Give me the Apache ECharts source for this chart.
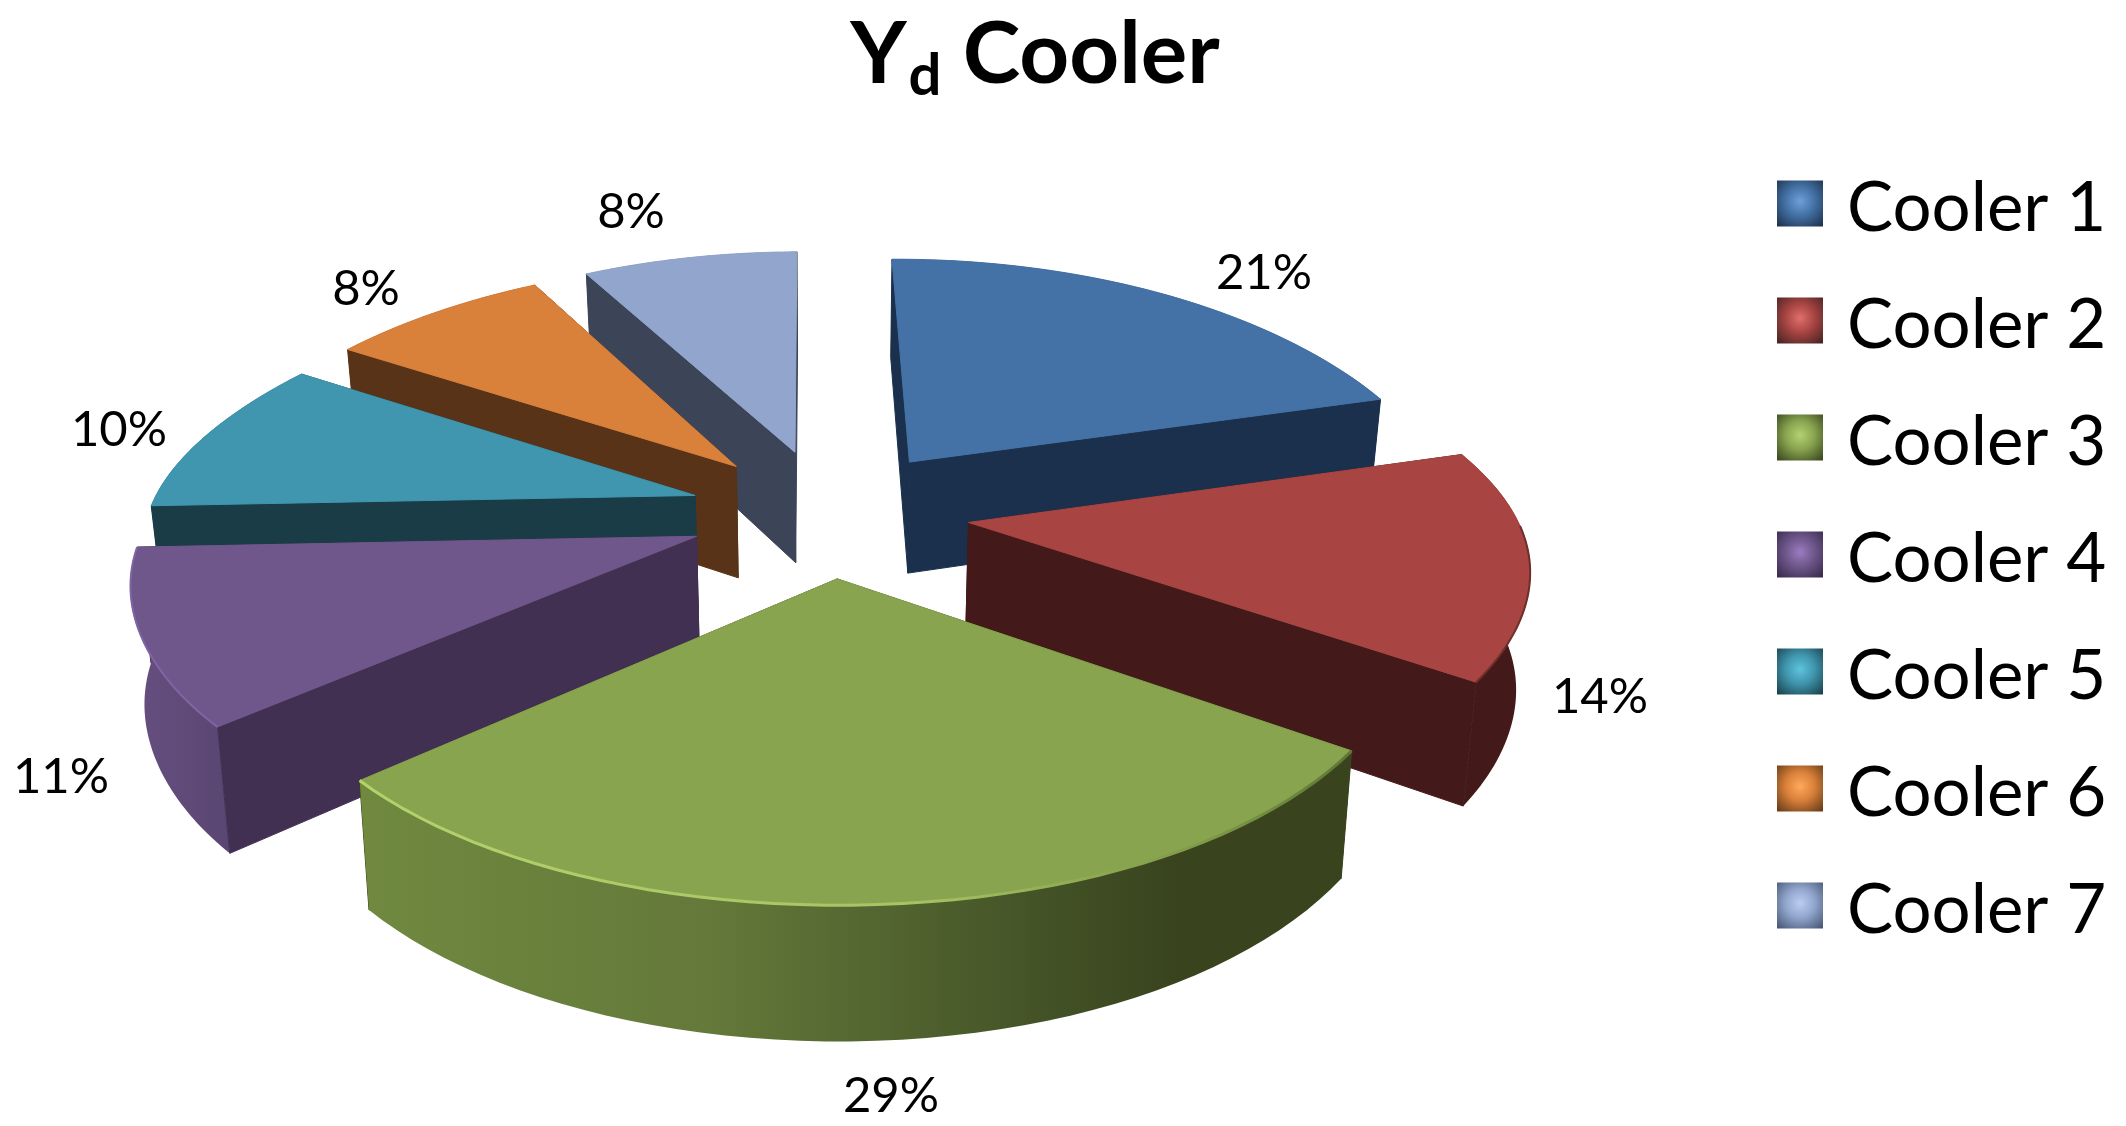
<!DOCTYPE html>
<html><head><meta charset="utf-8">
<style>html,body{margin:0;padding:0;background:#fff}#c{width:2126px;height:1126px}</style>
<script src="https://cdn.jsdelivr.net/npm/echarts@6/dist/echarts.min.js"></script>
</head><body><div id="c"></div>
<script>
const categories = ['Cooler 1','Cooler 2','Cooler 3','Cooler 4','Cooler 5','Cooler 6','Cooler 7'];
const values = [20.6, 14.2, 28.8, 10.8, 9.7, 7.9, 7.9];

const topColors  = ['#4472a6','#a84543','#88a44f','#6f578c','#3f96ae','#d9803a','#92a6cd'];
const wallColors = ['#1b304c','#431a19','#39441e','#413052','#1a3c47','#583317','#3b4557'];
const rimStops   = [
  [[0,'#1b304c'],[1,'#1b304c']],
  [[0,'#431a19'],[1,'#431a19']],
  [[0,'#70893f'],[.35,'#64793a'],[.65,'#475729'],[.82,'#39441e'],[1,'#39441e']],
  [[0,'#664f80'],[1,'#5a4672']],
  [[0,'#1a3c47'],[1,'#1a3c47']],
  [[0,'#583317'],[1,'#583317']],
  [[0,'#3b4557'],[1,'#3b4557']]];
const bevelColors = [null,'#6e2e2c',null,'#7f65a3',null,null,null];
const legendDark = ['#1f3450','#4a2523','#3c4a20','#3a2c4c','#1c4450','#6a3e18','#4a5a78'];
const legendLight= ['#6f9fda','#e06f6c','#b4d273','#9a7cc0','#5fc3dc','#ffa95a','#bccdf0'];

// stacking order of the exploded slices: back to front
const drawOrder = [6,0,5,4,1,3,2];
// percentage label anchors on the canvas
const labelAt = [[1264,273],[1600,697],[891,1096],[61,777],[119,430],[366,289],[631,212]];

// view of the tilted pie plane
const CX=829, CY=512, RX=530, RY=250, PX=0.18, PY=0.16, BULGE=0.03, BULGEW=0.4, EXPLODE=0.257, HEIGHT=114, HPERSP=0.13, CONV=0.02, A0=-0.5;

const total = values.reduce((a,b)=>a+b,0);
const cum=[]; values.reduce((a,v,i)=>(cum[i]=a,a+v),0);
function proj(u,v){return [CX+RX*(1+BULGE*Math.exp(-v*v/BULGEW))*u/(1-PX*v), CY+RY*v/(1-PY*v)];}
function drop(p,u,v){return [CX+(p[0]-CX)*(1-CONV), p[1]+HEIGHT/(1-HPERSP*v)];}

function slice(i){
  const a0=(A0+cum[i]/total*360)*Math.PI/180, a1=(A0+(cum[i]+values[i])/total*360)*Math.PI/180, m=(a0+a1)/2;
  const ex=EXPLODE*Math.sin(m), ey=-EXPLODE*Math.cos(m);
  const pt=(r,a)=>{const u=ex+r*Math.sin(a),v=ey-r*Math.cos(a);return {t:proj(u,v),b:drop(proj(u,v),u,v)};};
  const apex=pt(0,0), arc=[]; const N=48;
  for(let k=0;k<=N;k++)arc.push(pt(1,a0+(a1-a0)*k/N));
  return {apex,arc};
}
function wall(apex,e){return [apex.t,e.t,e.b,apex.b];}
function render(params,api){
  const i=params.seriesIndex, s=slice(i), children=[];
  const first=s.arc[0], last=s.arc[s.arc.length-1], mid=s.arc[24];
  const faces=(e)=>{const x0=s.apex.t[0],y0=s.apex.t[1],x1=e.t[0],y1=e.t[1];
    if(Math.abs(x1-x0)<1)return false;
    const ly=y0+(y1-y0)*(mid.t[0]-x0)/(x1-x0); return mid.t[1]<ly;};
  const wallEl=(e)=>({type:'polygon',shape:{points:wall(s.apex,e)},style:{fill:wallColors[i],stroke:wallColors[i],lineWidth:1}});
  [first,last].forEach(e=>{if(!faces(e))children.push(wallEl(e));});
  const rim=s.arc.map(p=>p.t).concat(s.arc.map(p=>p.b).reverse());
  const xs=rim.map(p=>p[0]), minX=Math.min(...xs), maxX=Math.max(...xs);
  children.push({type:'polygon',shape:{points:rim},style:{
    fill:{type:'linear',x:minX,y:0,x2:maxX,y2:0,global:true,colorStops:rimStops[i].map(o=>({offset:o[0],color:o[1]}))},
    stroke:null}});
  [first,last].forEach(e=>{if(faces(e))children.push(wallEl(e));});
  const topPts=[s.apex.t].concat(s.arc.map(p=>p.t));
  children.push({type:'polygon',shape:{points:topPts},style:{fill:topColors[i],stroke:topColors[i],lineWidth:1}});
  const frontArc=s.arc.filter(p=>p.t[1]>s.apex.t[1]).map(p=>p.t);
  if(i===2){children.push({type:'polyline',shape:{points:frontArc},style:{fill:null,lineWidth:3,
    stroke:{type:'linear',x:minX,y:0,x2:maxX,y2:0,global:true,colorStops:[{offset:0,color:'#b4d26c'},{offset:.55,color:'#a6c464'},{offset:.85,color:'#7f9a48'},{offset:1,color:'#5f7636'}]}}});}
  else if(bevelColors[i]&&frontArc.length>1){children.push({type:'polyline',shape:{points:frontArc},style:{fill:null,lineWidth:2,stroke:bevelColors[i]}});}
  children.push({type:'text',style:{text:Math.round(values[i]/total*100)+'%',x:labelAt[i][0],y:labelAt[i][1],
    font:'49px Lato',fill:'#000',align:'center',verticalAlign:'middle'}});
  return {type:'group',children};
}

const chart=echarts.init(document.getElementById('c'),null,{renderer:'canvas'});
chart.setOption({
  animation:false, backgroundColor:'#fff',
  title:{left:1030,top:0,textAlign:'center',
    text:'{y|Y}{d|d}{c| Cooler}',
    textStyle:{rich:{
      y:{fontFamily:'Lato',fontWeight:'bold',fontSize:87,color:'#000',lineHeight:100},
      d:{fontFamily:'Lato',fontWeight:'bold',fontSize:58,color:'#000',verticalAlign:'bottom',padding:[28,0,0,2]},
      c:{fontFamily:'Lato',fontWeight:'bold',fontSize:87,color:'#000',lineHeight:100}}}},
  legend:{orient:'vertical',left:1772,top:169,itemWidth:46,itemHeight:46,itemGap:48,
    formatter:n=>'{a|'+n+'}',
    textStyle:{rich:{a:{fontFamily:'Lato',fontSize:69,color:'#000',padding:[10,0,0,19]}}},
    data:categories.map((n,i)=>({name:n,icon:'rect',itemStyle:{color:{type:'radial',x:.5,y:.45,r:.7,colorStops:[{offset:0,color:legendLight[i]},{offset:.45,color:topColors[i]},{offset:1,color:legendDark[i]}]}}}))},
  series:categories.map((n,i)=>({
    type:'custom',name:n,coordinateSystem:'none',renderItem:render,
    z:2+drawOrder.indexOf(i),data:[values[i]],itemStyle:{color:topColors[i]},silent:true,clip:false}))
});
</script></body></html>
